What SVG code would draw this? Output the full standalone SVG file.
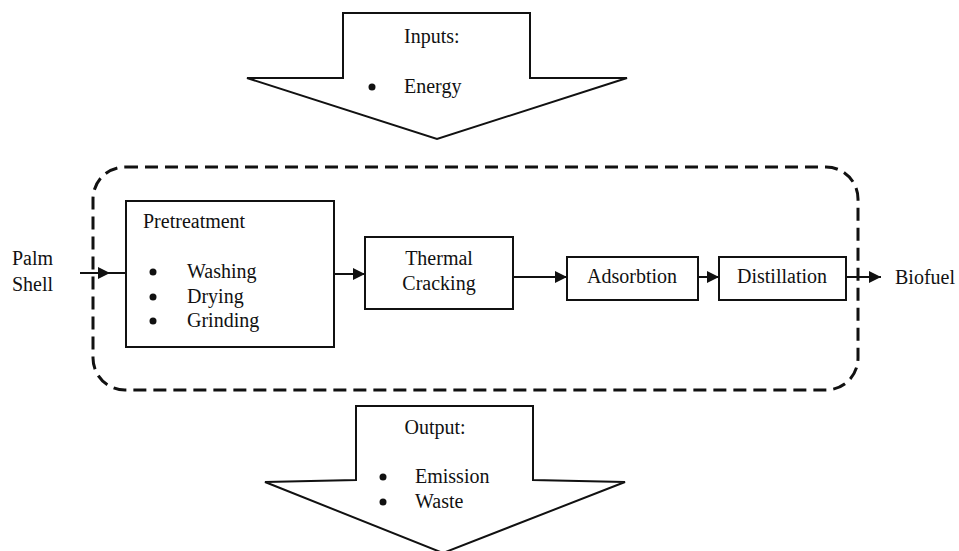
<svg xmlns="http://www.w3.org/2000/svg" width="959" height="551" viewBox="0 0 959 551">
<defs>
<style>
text{font-family:"Liberation Serif","Times New Roman",serif;font-size:20px;fill:#111}
.box{fill:#fff;stroke:#111;stroke-width:2}
.big{fill:#fff;stroke:#111;stroke-width:2;stroke-linejoin:miter}
.dash{fill:none;stroke:#111;stroke-width:3;stroke-dasharray:13 7}
.edge{stroke:#111;stroke-width:2;fill:none}
.mid{text-anchor:middle}
</style>
<marker id="ah" viewBox="0 0 12 12" refX="12" refY="6" markerWidth="12" markerHeight="12" markerUnits="userSpaceOnUse" orient="auto">
<path d="M0,0 L12,6 L0,12 Z" fill="#111"/>
</marker>
</defs>
<rect width="959" height="551" fill="#fff"/>

<g id="inputs">
<path class="big" d="M343,13 L530,13 L530,78 L627,78 L437,139 L247,78 L343,78 Z"/>
<text x="404" y="43">Inputs:</text>
<circle cx="372" cy="87" r="3.5" fill="#111"/>
<text x="404" y="93">Energy</text>
</g>

<g id="system">
<rect class="dash" x="93" y="167" width="765" height="223" rx="32" ry="32"/>
</g>

<g id="palm-shell">
<text x="12" y="265">Palm</text>
<text x="12" y="291">Shell</text>
</g>

<g id="pretreatment">
<rect class="box" x="126" y="201" width="208" height="146"/>
<text x="143" y="228">Pretreatment</text>
<circle cx="153" cy="272" r="3.5" fill="#111"/>
<text x="187" y="278">Washing</text>
<circle cx="153" cy="297" r="3.5" fill="#111"/>
<text x="187" y="303">Drying</text>
<circle cx="153" cy="321" r="3.5" fill="#111"/>
<text x="187" y="327">Grinding</text>
</g>

<g id="thermal-cracking">
<rect class="box" x="365" y="237" width="148" height="72"/>
<text class="mid" x="439" y="265">Thermal</text>
<text class="mid" x="439" y="290">Cracking</text>
</g>

<g id="adsorbtion">
<rect class="box" x="567" y="257" width="131" height="43"/>
<text class="mid" x="632" y="283">Adsorbtion</text>
</g>

<g id="distillation">
<rect class="box" x="719" y="257" width="127" height="43"/>
<text class="mid" x="782" y="283">Distillation</text>
</g>

<g id="biofuel">
<text x="895" y="284">Biofuel</text>
</g>

<g id="connectors">
<line class="edge" x1="80" y1="273" x2="110" y2="273" marker-end="url(#ah)"/>
<line class="edge" x1="108" y1="273" x2="126" y2="273"/>
<line class="edge" x1="334" y1="274" x2="365" y2="274" marker-end="url(#ah)"/>
<line class="edge" x1="513" y1="277" x2="567" y2="277" marker-end="url(#ah)"/>
<line class="edge" x1="698" y1="277" x2="719" y2="277" marker-end="url(#ah)"/>
<line class="edge" x1="846" y1="277" x2="881" y2="277" marker-end="url(#ah)"/>
</g>

<g id="output">
<path class="big" d="M356,406 L533,406 L533,480 L625,482 L443,553 L265,482 L356,480 Z"/>
<text class="mid" x="435" y="434">Output:</text>
<circle cx="383" cy="477" r="3.5" fill="#111"/>
<text x="415" y="483">Emission</text>
<circle cx="383" cy="502" r="3.5" fill="#111"/>
<text x="415" y="508">Waste</text>
</g>
</svg>
